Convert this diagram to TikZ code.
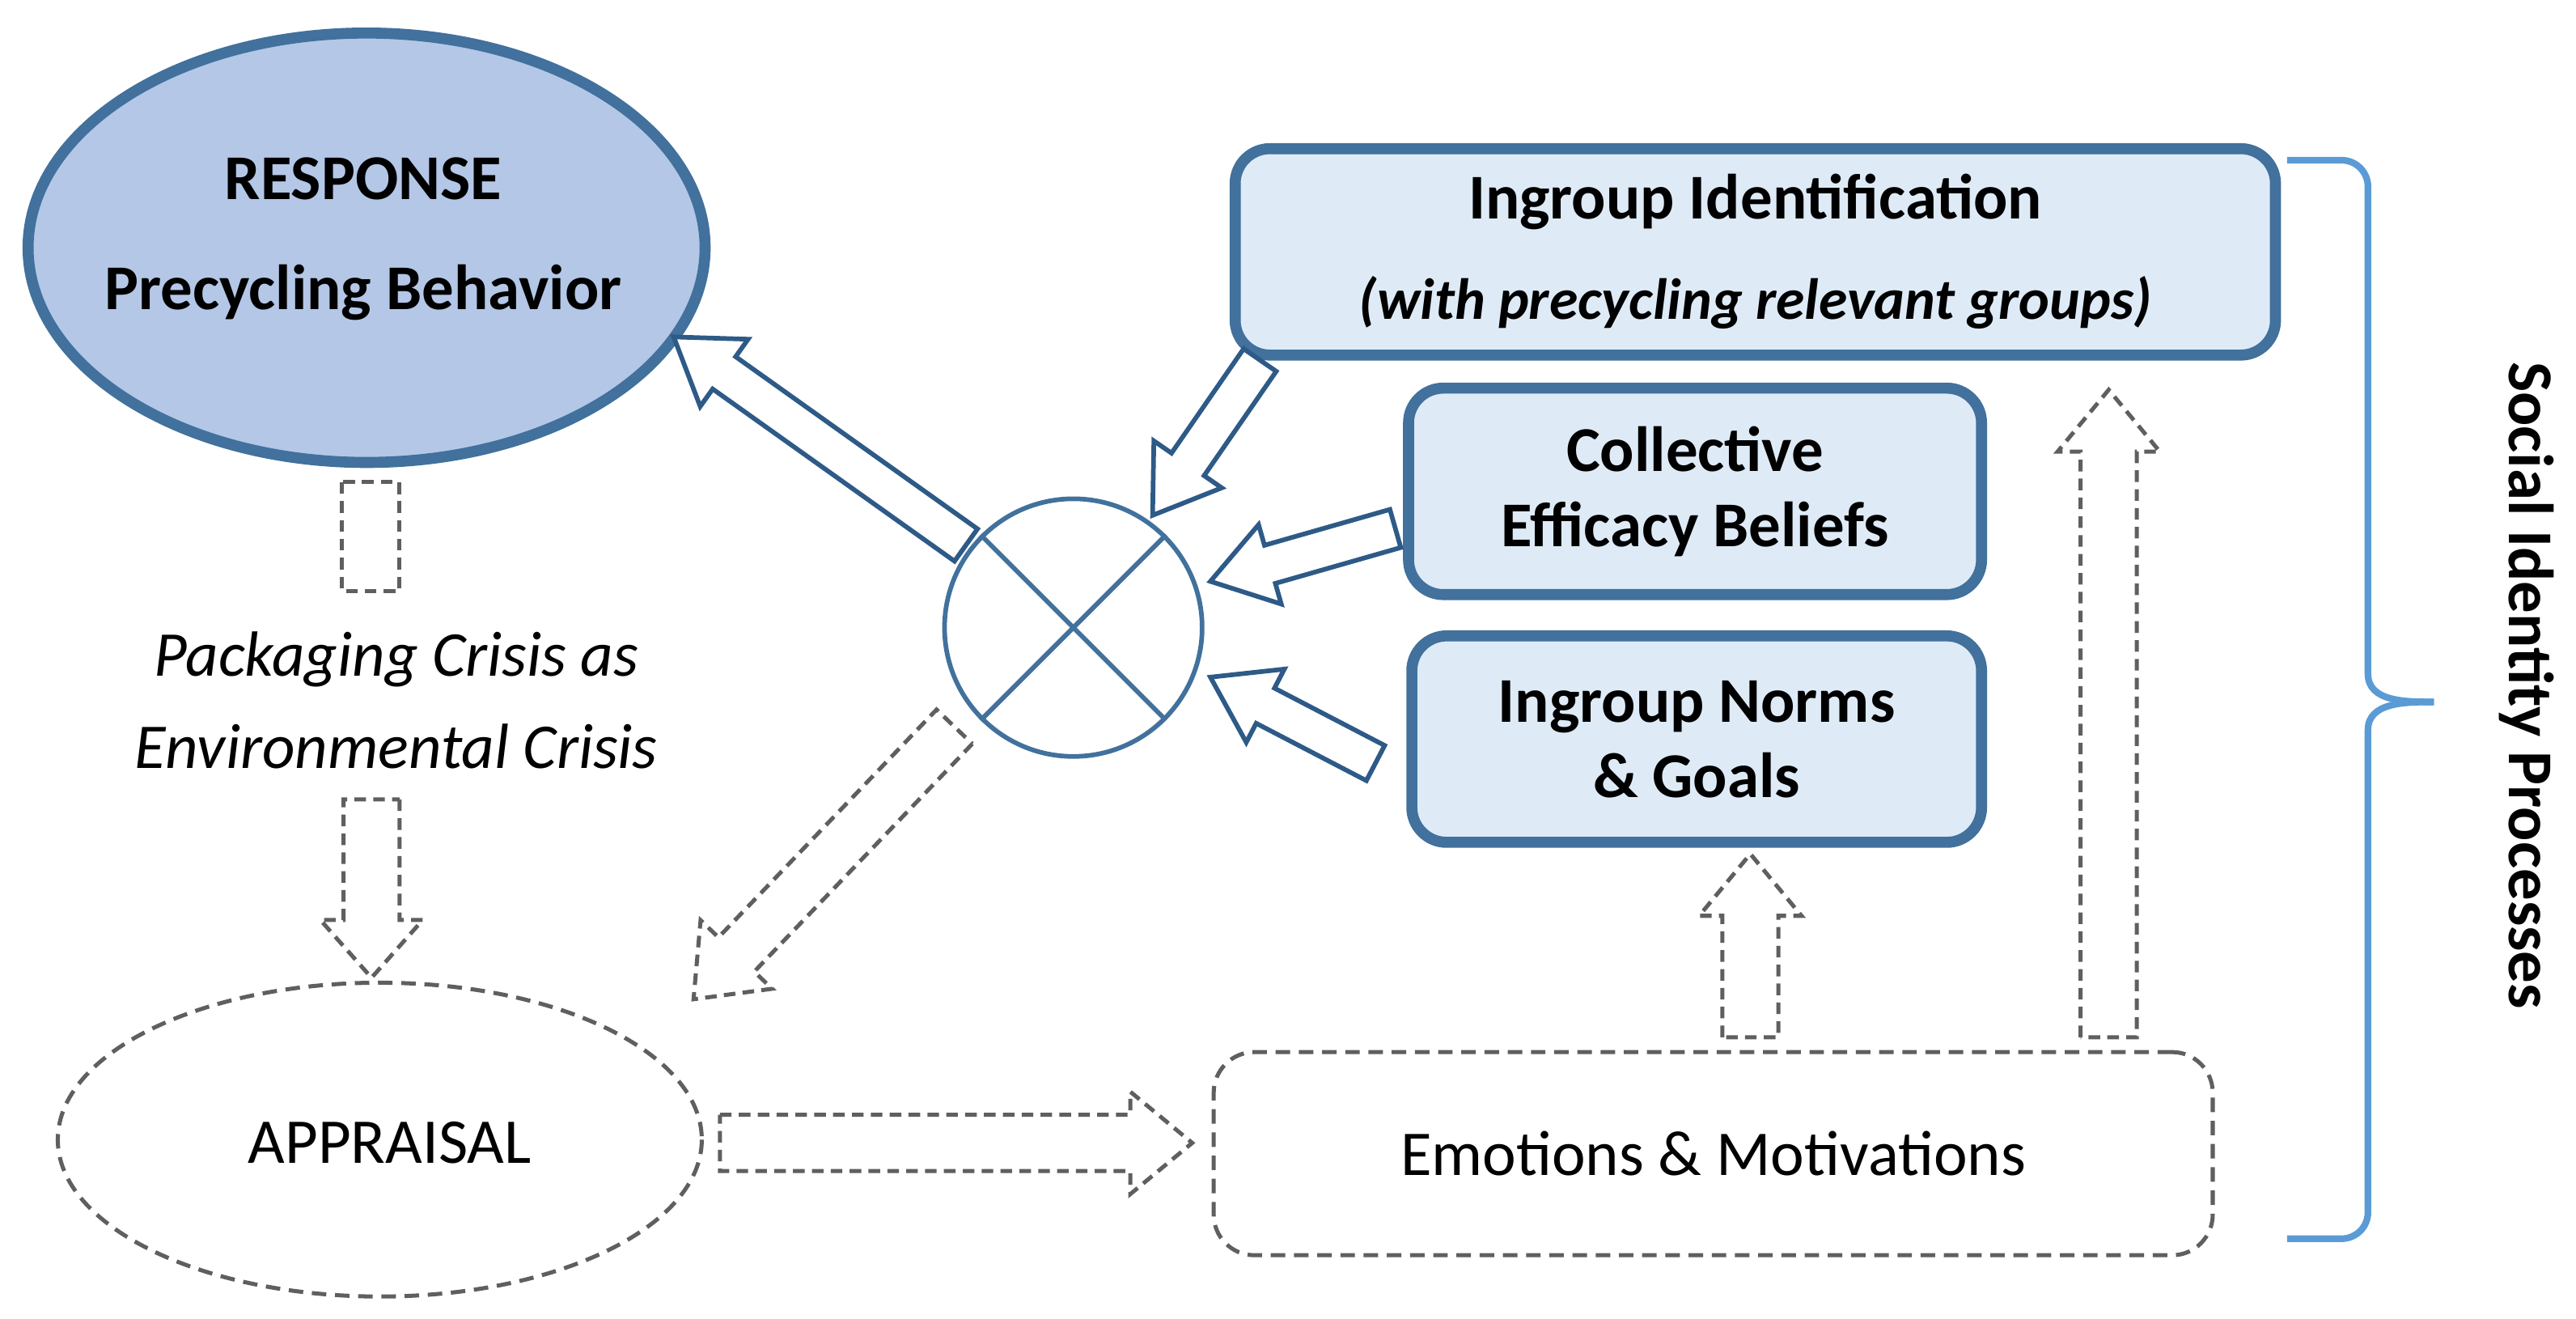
\documentclass[tikz,border=0pt]{standalone}
\usepackage{fontspec}
\setmainfont{Carlito}
\usetikzlibrary{calc}
\definecolor{bord}{HTML}{41719C}
\definecolor{dk}{HTML}{2E5A87}
\definecolor{fillA}{HTML}{B4C7E7}
\definecolor{fillB}{HTML}{DEEBF7}
\definecolor{brk}{HTML}{5B9BD5}
\definecolor{dsh}{HTML}{5F5F5F}
\newcommand\barrow[6][]{%
 \coordinate (ba) at (#2); \coordinate (bb) at (#3);
 \coordinate (bh) at ($(bb)!#6!(ba)$);
 \draw[#1] ($(ba)!#4!90:(bb)$) -- ($(bh)!#4!90:(bb)$) -- ($(bh)!#5!90:(bb)$) -- (bb) -- ($(bh)!#5!-90:(bb)$) -- ($(bh)!#4!-90:(bb)$) -- ($(ba)!#4!-90:(bb)$) -- cycle;}
\tikzset{
 txt/.style={font=\fontsize{22}{28}\selectfont, align=center},
 bf/.style={font=\fontsize{22}{28}\selectfont\bfseries, align=center},
 solidbox/.style={draw=bord, line width=3.8pt, fill=fillB, rounded corners=12pt, txt},
 dbox/.style={draw=dsh, line width=1.4pt, dash pattern=on 5pt off 3pt},
 sarrow/.style={draw=dk, line width=1.6pt, fill=white, line join=miter},
 darrow/.style={draw=dsh, line width=1.4pt, dash pattern=on 4pt off 2.5pt, fill=white},
}
\begin{document}
\begin{tikzpicture}[x=0.02cm,y=-0.02cm]
\useasboundingbox (0,0) rectangle (1560,798.6);
% response ellipse
\draw[bord, line width=3.8pt, fill=fillA] (222,150) ellipse (205 and 130);
\node[bf] (respt) at (220,108) {RESPONSE};
\node[bf] (respt2) at (220,177) {Precycling Behavior};
% boxes
\node[solidbox, minimum width=630*0.02cm, minimum height=125*0.02cm] (ident) at (1063,152.5) {};
\node[bf] (identa) at (1063,122) {Ingroup Identification};
\node[txt, font=\fontsize{20}{26}\selectfont\bfseries\itshape] (identb) at (1063,183) {(with precycling relevant groups)};
\node[solidbox, bf, minimum width=347*0.02cm, minimum height=125*0.02cm] (coll) at (1026.5,297.5) {Collective\\[-2pt]Efficacy Beliefs};
\node[solidbox, bf, minimum width=345*0.02cm, minimum height=125*0.02cm] (norms) at (1027.5,447.5) {Ingroup Norms\\[-2pt]\& Goals};
% circle X
\node[circle, draw=bord, line width=1.6pt, minimum size=156*0.02cm, inner sep=0pt] (mult) at (650,380) {};
\draw[bord, line width=1.6pt] (mult.north west) -- (mult.south east) (mult.north east) -- (mult.south west);
% bracket
\draw[brk, line width=2.3pt] (1385,97) -- (1418,97) to[out=0,in=90] (1434,113) -- (1434,408) to[out=-90,in=180] (1474,425);
\draw[brk, line width=2.3pt] (1385,750) -- (1418,750) to[out=0,in=-90] (1434,734) -- (1434,442) to[out=90,in=180] (1474,425);
\node[rotate=-90, bf] (sip) at (1530,415) {Social Identity Processes};
% appraisal, emotions
\draw[dbox] (230,690) ellipse (195 and 95);
\node[txt] (appr) at (236,692) {APPRAISAL};
\node[dbox, rounded corners=14pt, minimum width=605*0.02cm, minimum height=123*0.02cm, txt] (emo) at (1037.5,698.5) {Emotions \& Motivations};
\node[txt, font=\fontsize{22}{32}\selectfont\itshape] (pack) at (240,424) {Packaging Crisis as\\Environmental Crisis};
% dashed arrows
\draw[darrow] (207,292) rectangle (242,358);
\coordinate (d1a) at (225,484); \coordinate (d1b) at (225,592);
\barrow[darrow]{d1a}{d1b}{0.34cm}{0.62cm}{0.7cm}
\coordinate (d2a) at (436,692); \coordinate (d2b) at (722,692);
\barrow[darrow]{d2a}{d2b}{0.34cm}{0.62cm}{0.75cm}
\coordinate (d3a) at (578,440); \coordinate (d3b) at (420,605);
\barrow[darrow]{d3a}{d3b}{0.3cm}{0.6cm}{0.75cm}
\coordinate (d4a) at (1060,628); \coordinate (d4b) at (1060,517);
\barrow[darrow]{d4a}{d4b}{0.34cm}{0.62cm}{0.75cm}
\coordinate (d5a) at (1277,628); \coordinate (d5b) at (1277,236);
\barrow[darrow]{d5a}{d5b}{0.34cm}{0.62cm}{0.75cm}
% solid arrows
\coordinate (s1a) at (585,330); \coordinate (s1b) at (408,204);
\barrow[sarrow]{s1a}{s1b}{0.24cm}{0.5cm}{0.75cm}
\coordinate (s2a) at (763,218); \coordinate (s2b) at (698,312);
\barrow[sarrow]{s2a}{s2b}{0.24cm}{0.5cm}{0.75cm}
\coordinate (s3a) at (845,320); \coordinate (s3b) at (733,352);
\barrow[sarrow]{s3a}{s3b}{0.24cm}{0.5cm}{0.75cm}
\coordinate (s4a) at (833,462); \coordinate (s4b) at (733,410);
\barrow[sarrow]{s4a}{s4b}{0.24cm}{0.5cm}{0.75cm}
\end{tikzpicture}
\end{document}
